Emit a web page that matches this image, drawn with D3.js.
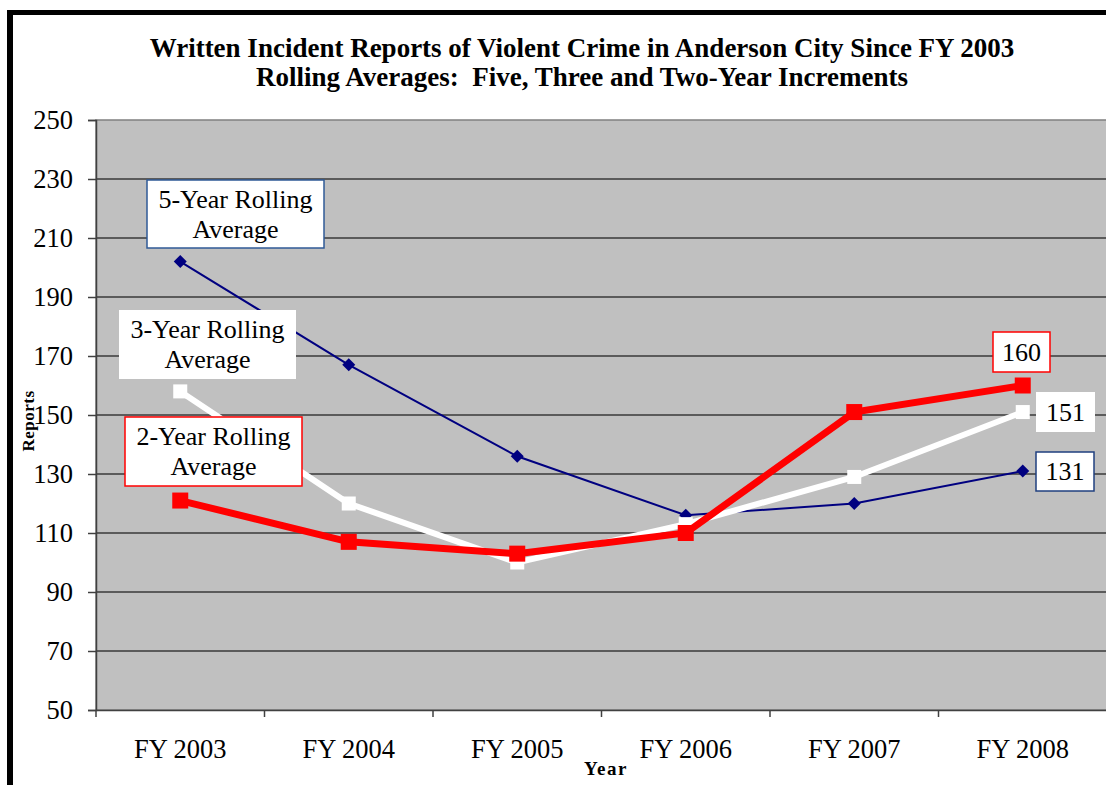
<!DOCTYPE html>
<meta charset="utf-8">
<script src="https://d3js.org/d3.v7.min.js"></script>
<style>
  body { margin: 0; background: #fff; }
  text { font-family: "Liberation Serif", "Times New Roman", serif; }
</style>
<div id="chart"></div>
<script>
// data
var years = ["FY 2003", "FY 2004", "FY 2005", "FY 2006", "FY 2007", "FY 2008"];
var fiveYear = [202, 167, 136, 116, 120, 131];
var threeYear = [158, 120, 100, 113, 129, 151];
var twoYear = [121, 107, 103, 110, 151, 160];
var yTicks = [50, 70, 90, 110, 130, 150, 170, 190, 210, 230, 250];

var W = 1106, H = 785;
var plot = { left: 96, top: 120, right: 1107, bottom: 710 };

var svg = d3.select("#chart").append("svg")
  .attr("width", W).attr("height", H);

// outer frame (left + top black edge)
svg.append("rect").attr("x", 7).attr("y", 10).attr("width", 6).attr("height", H - 10).attr("fill", "#000");
svg.append("rect").attr("x", 7).attr("y", 10).attr("width", W - 7).attr("height", 5).attr("fill", "#000");

var x = d3.scaleBand().domain(years).range([plot.left, plot.right]);
var y = d3.scaleLinear().domain([50, 250]).range([plot.bottom, plot.top]);

// plot background
svg.append("rect")
  .attr("x", plot.left).attr("y", plot.top)
  .attr("width", plot.right - plot.left).attr("height", plot.bottom - plot.top)
  .attr("fill", "#c0c0c0").attr("stroke", "#808080").attr("stroke-width", 1.5);

// gridlines
svg.append("g").selectAll("line")
  .data(yTicks.slice(1, -1))
  .join("line")
  .attr("x1", plot.left).attr("x2", plot.right)
  .attr("y1", d => y(d)).attr("y2", d => y(d))
  .attr("stroke", "#3a3a3a").attr("stroke-width", 1.5);

// y axis
var yAxis = svg.append("g")
  .attr("transform", "translate(" + plot.left + ",0)")
  .call(d3.axisLeft(y).tickValues(yTicks).tickSize(8).tickPadding(15));
yAxis.select(".domain").attr("stroke", "#404040").attr("stroke-width", 1.5);
yAxis.selectAll(".tick line").attr("stroke", "#404040").attr("stroke-width", 1.5);
yAxis.selectAll(".tick text").attr("font-size", 26.5).attr("fill", "#000")
  .attr("font-family", "Liberation Serif");

// x axis (ticks between categories)
var xAxis = svg.append("g")
  .attr("transform", "translate(0," + plot.bottom + ")")
  .call(d3.axisBottom(x).tickSize(0));
xAxis.select(".domain").attr("stroke", "#404040").attr("stroke-width", 1.5);
xAxis.selectAll(".tick text").attr("font-size", 26.5).attr("fill", "#000")
  .attr("font-family", "Liberation Serif").attr("y", 48).attr("dy", 0);
svg.append("g").selectAll("line")
  .data(years)
  .join("line")
  .attr("x1", d => x(d)).attr("x2", d => x(d))
  .attr("y1", plot.bottom).attr("y2", plot.bottom + 7)
  .attr("stroke", "#404040").attr("stroke-width", 1.5);

// axis titles
svg.append("text")
  .attr("transform", "translate(34,421) rotate(-90)")
  .attr("text-anchor", "middle")
  .attr("font-size", 17).attr("font-weight", "bold").attr("letter-spacing", 0.5)
  .text("Reports");
svg.append("text")
  .attr("x", 606).attr("y", 775)
  .attr("text-anchor", "middle")
  .attr("font-size", 19).attr("font-weight", "bold").attr("letter-spacing", 1.5)
  .text("Year");

// title
var title = svg.append("text").attr("text-anchor", "middle")
  .attr("font-size", 27).attr("font-weight", "bold");
title.append("tspan").attr("x", 582).attr("y", 57)
  .text("Written Incident Reports of Violent Crime in Anderson City Since FY 2003");
title.append("tspan").attr("x", 582).attr("y", 86)
  .text("Rolling Averages:  Five, Three and Two-Year Increments")
  .style("white-space", "pre");

// lines
var line = d3.line()
  .x((d, i) => x(years[i]) + x.bandwidth() / 2)
  .y(d => y(d));

var series = [
  { values: fiveYear, color: "#000080", width: 2, marker: "diamond", size: 13 },
  { values: threeYear, color: "#ffffff", width: 6, marker: "square", size: 14 },
  { values: twoYear, color: "#ff0000", width: 7, marker: "square", size: 16 }
];

series.forEach(function (s) {
  svg.append("path")
    .datum(s.values)
    .attr("fill", "none")
    .attr("stroke", s.color)
    .attr("stroke-width", s.width)
    .attr("stroke-linejoin", "miter")
    .attr("d", line);
  var g = svg.append("g").selectAll("g")
    .data(s.values)
    .join("g")
    .attr("transform", (d, i) => "translate(" + (x(years[i]) + x.bandwidth() / 2) + "," + y(d) + ")");
  if (s.marker === "diamond") {
    var h = s.size / 2;
    g.append("path").attr("d", "M0," + (-h) + "L" + h + ",0L0," + h + "L" + (-h) + ",0Z")
      .attr("fill", s.color);
  } else {
    g.append("rect")
      .attr("x", -s.size / 2).attr("y", -s.size / 2)
      .attr("width", s.size).attr("height", s.size)
      .attr("fill", s.color);
  }
});

// annotation boxes
function box(x0, y0, w, h, stroke, lines, fs, lineH) {
  svg.append("rect")
    .attr("x", x0).attr("y", y0).attr("width", w).attr("height", h)
    .attr("fill", "#fff")
    .attr("stroke", stroke || "none").attr("stroke-width", 1.5);
  var cy = y0 + h / 2 - (lines.length - 1) * lineH / 2;
  lines.forEach(function (t, i) {
    svg.append("text")
      .attr("x", x0 + w / 2).attr("y", cy + i * lineH)
      .attr("dy", "0.33em")
      .attr("text-anchor", "middle")
      .attr("font-size", fs)
      .text(t);
  });
}

box(147, 180, 177, 68, "#2f5a96", ["5-Year Rolling", "Average"], 26, 30);
box(119, 310, 177, 69, null, ["3-Year Rolling", "Average"], 26, 30);
box(125, 417, 177, 69, "#ff0000", ["2-Year Rolling", "Average"], 26, 30);

var last = years.length - 1;
box(993, 332, 57, 40, "#ff0000", [String(twoYear[last])], 26, 0);
box(1036, 392, 59, 40, null, [String(threeYear[last])], 26, 0);
box(1036, 452, 58, 39, "#1f3f7f", [String(fiveYear[last])], 26, 0);
</script>
